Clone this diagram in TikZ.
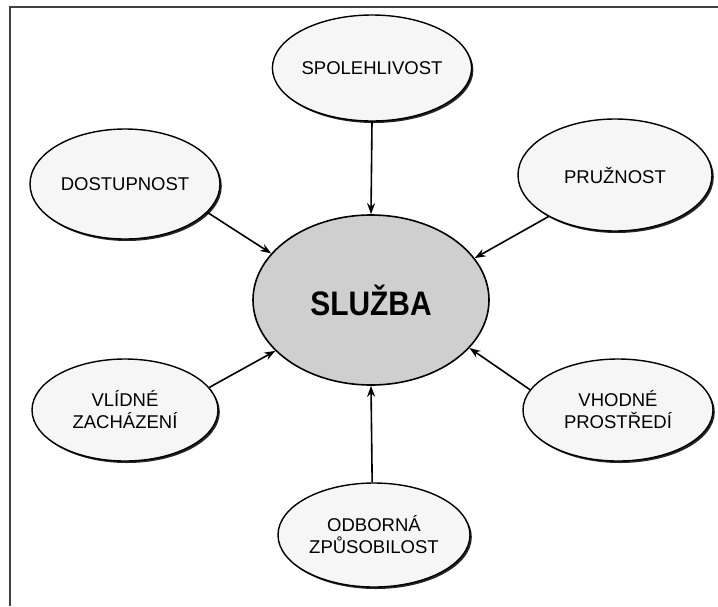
\documentclass[tikz,border=0pt]{standalone}
\usepackage{fontspec}
\usepackage{graphicx}
\setmainfont{Liberation Sans}
\usetikzlibrary{shapes.geometric,arrows.meta,shadows}

\begin{document}
\begin{tikzpicture}[x=1pt,y=-1pt,
  factor/.style={ellipse, draw=black, line width=1.4pt, fill=gray!7,
    inner sep=0pt, minimum width=188pt, minimum height=106pt,
    align=center, font=\fontsize{18.5}{22}\selectfont,
    drop shadow={shadow xshift=1.8pt, shadow yshift=-2pt,
      fill=black!85, opacity=1}},
  core/.style={ellipse, draw=black, line width=1.6pt, fill=gray!38,
    inner sep=0pt, minimum width=236pt, minimum height=170pt,
    font=\fontsize{34}{36}\selectfont\bfseries},
  link/.style={line width=1.6pt, -{Stealth[length=11pt,width=8pt]}},
  frameline/.style={line width=2.4pt, draw=black!75}]

  % page extent and the open frame along the top and left
  \useasboundingbox (0,0) rectangle (718,606);
  \draw[frameline] (10,606) -- (10,7) -- (718,7);

  % central concept
  \node[core] (sluzba) at (371,300) {\scalebox{0.88}[1]{SLUŽBA}};

  % surrounding factors
  \node[factor, minimum width=182pt] (spol) at (372,68) {SPOLEHLIVOST};
  \node[factor, minimum width=190pt, minimum height=110pt] (dost) at (125,184) {DOSTUPNOST};
  \node[factor, minimum width=194pt, minimum height=112pt] (pruz) at (615,175) {PRUŽNOST};
  \node[factor, minimum width=186pt, minimum height=102pt] (vlid) at (125,410) {VLÍDNÉ\\ZACHÁZENÍ};
  \node[factor, minimum width=190pt, minimum height=102pt] (vhod) at (618,410) {VHODNÉ\\PROSTŘEDÍ};
  \node[factor, minimum width=192pt, minimum height=104pt] (odb) at (374,535) {ODBORNÁ\\ZPŮSOBILOST};

  % influences pointing to the centre
  \draw[link] (spol.south) -- (sluzba.north);
  \draw[link] (dost.-19) -- (sluzba.155);
  \draw[link] (pruz.212) -- (sluzba.22);
  \draw[link] (vlid.15) -- (sluzba.208);
  \draw[link] (vhod.167) -- (sluzba.-26);
  \draw[link] (odb.92) -- (sluzba.-90);
\end{tikzpicture}
\end{document}
